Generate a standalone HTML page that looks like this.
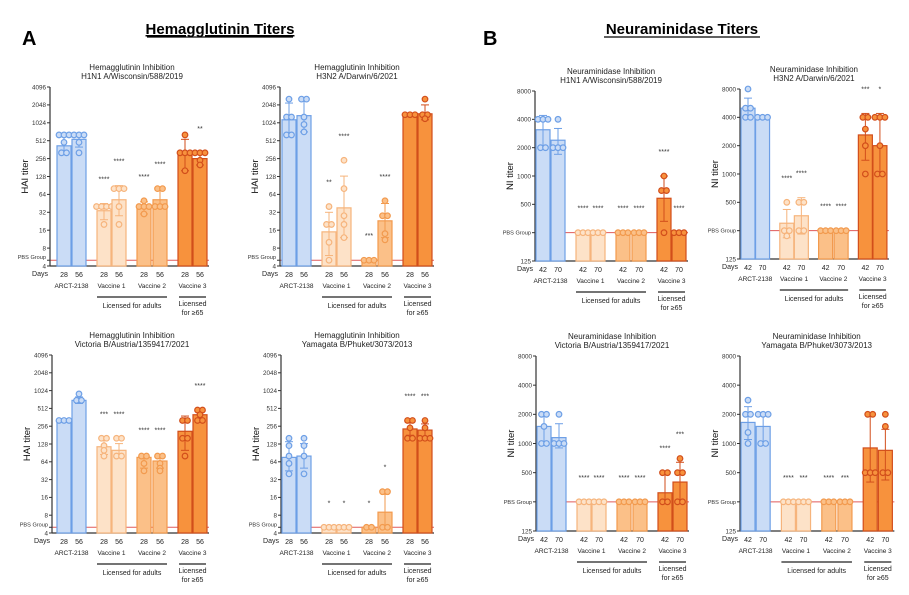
<!DOCTYPE html>
<html><head><meta charset="utf-8">
<style>
body{margin:0;background:#fff;}
svg{display:block;font-family:"Liberation Sans",Arial,sans-serif;}
</style></head>
<body>
<svg id="fig" width="909" height="595" viewBox="0 0 909 595">
<text x="22" y="45" font-size="20" font-weight="bold">A</text>
<text x="220" y="34" font-size="15" font-weight="bold" text-anchor="middle" text-decoration="underline">Hemagglutinin Titers</text>
<line x1="147" y1="37" x2="293" y2="37" stroke="#000" stroke-width="1.3"/>
<text x="483" y="45" font-size="20" font-weight="bold">B</text>
<text x="682" y="34" font-size="15" font-weight="bold" text-anchor="middle">Neuraminidase Titers</text>
<line x1="604" y1="37" x2="760" y2="37" stroke="#000" stroke-width="1.3"/>
</svg>
<script>
// ---- data ----
const groups = ["ARCT-2138","Vaccine 1","Vaccine 2","Vaccine 3"];
const haTicks = [4,8,16,32,64,128,256,512,1024,2048,4096];
const niTicks = [125,500,1000,2000,4000,8000];
const haDays = ["28","56"];
const niDays = ["42","70"];

// HA H1N1
const p1Bars = [420,540,34,52,40,52,300,256];
const p1Pts = [[640,640,640,320,320,480],[640,640,640,480,320],[40,40,40,20,40],[80,80,80,40,20],[40,40,40,50,30],[80,80,40,40,40],[640,320,320,320,160],[320,320,320,240,200]];
const p1Err = [[320,640],[400,680],[24,45],[28,90],[30,48],[40,80],[160,540],[200,320]];
const p1Stars = ["","","****","****","****","****","","**"];
// HA H3N2
const p2Bars = [1150,1350,15,38,5,23,1400,1450];
const p2Pts = [[2560,1280,1280,640,640],[2560,2560,1280,960,720],[40,20,20,10,5],[240,80,28,20,12],[5,5,5],[50,28,28,14,11],[1400,1400,1400],[2560,1400,1400,1200]];
const p2Err = [[640,2200],[720,2400],[6,32],[12,130],[5,5],[12,45],[1400,1400],[1150,2048]];
const p2Stars = ["","","**","****","***","****","",""];
// NI H1N1
const p3Bars = [3100,2400,250,250,250,250,580,250];
const p3Pts = [[4000,4000,4000,2000,2000],[4000,2000,2000,2000],[250,250,250],[250,250,250],[250,250,250],[250,250,250],[1000,700,700,250],[250,250,250]];
const p3Err = [[2000,4400],[1700,3200],[250,250],[250,250],[250,250],[250,250],[330,1000],[250,250]];
const p3Stars = ["","","****","****","****","****","****","****"];
// NI H3N2
const p4Bars = [5000,4000,300,360,250,250,2600,2000];
const p4Pts = [[8000,5000,5000,4000,4000],[4000,4000,4000],[500,250,250,220],[500,500,250,250],[250,250,250],[250,250,250],[4000,4000,3000,2000,1000],[4000,4000,4000,2000,1000,1000]];
const p4Err = [[4000,6400],[4000,4000],[210,420],[230,560],[250,250],[250,250],[1400,4400],[1000,4400]];
const p4Stars = ["","","****","****","****","****","***","*"];
// HA Victoria
const p5Bars = [320,700,115,100,76,66,210,400];
const p5Pts = [[320,320,320],[900,700,700],[160,160,120,100,80],[160,160,80,80],[80,80,60,45],[80,80,60,50,45],[320,320,160,160,80],[480,480,400,320,320]];
const p5Err = [[320,320],[620,800],[85,160],[80,130],[50,85],[50,85],[100,380],[320,480]];
const p5Stars = ["","","***","****","****","****","","****"];
// HA Yamagata
const p6Bars = [76,80,5,5,5,9,230,220];
const p6Pts = [[160,120,80,60,40],[160,120,80,40],[5,5,5],[5,5,5],[5,5],[20,20,5,5],[320,320,240,160,160],[320,240,160,160,160]];
const p6Err = [[45,140],[50,130],[5,5],[5,5],[5,5],[5,18],[180,300],[170,280]];
const p6Stars = ["","","*","*","*","*","****","***"];
// NI Victoria
const p7Bars = [1500,1150,250,250,250,250,310,400];
const p7Pts = [[2000,2000,1500,1000,1000],[2000,1000,1000,1000],[250,250,250],[250,250,250],[250,250,250],[250,250,250],[500,500,250,250],[700,500,500,250,250]];
const p7Err = [[1000,2000],[900,1600],[250,250],[250,250],[250,250],[250,250],[250,500],[250,640]];
const p7Stars = ["","","****","****","****","****","****","***"];
// NI Yamagata
const p8Bars = [1650,1500,250,250,250,250,900,850];
const p8Pts = [[2800,2000,2000,1300,1000],[2000,2000,2000,1000,1000],[250,250,250],[250,250,250],[250,250,250],[250,250,250],[2000,2000,500,500,500],[2000,1500,500,500]];
const p8Err = [[1100,2400],[1000,2000],[250,250],[250,250],[250,250],[250,250],[400,2000],[420,1400]];
const p8Stars = ["","","****","***","****","***","",""];

const fills = ["#cadcf6","#cadcf6","#fde2c8","#fde2c8","#fbc088","#fbc088","#f7923d","#f7923d"];
const strokes = ["#6d9fe6","#6d9fe6","#f6b47c","#f6b47c","#f29a4e","#f29a4e","#d24e1b","#d24e1b"];

const panels = [
 {id:"ha-h1n1",axisX:50,top:87,bottom:266,min:4,max:4096,pbs:5,first:64,sc:1,ticks:haTicks,days:haDays,yl:"HAI titer",t1:"Hemagglutinin Inhibition",t2:"H1N1 A/Wisconsin/588/2019",bars:p1Bars,pts:p1Pts,err:p1Err,stars:p1Stars},
 {id:"ha-h3n2",axisX:280,top:87,bottom:266,min:4,max:4096,pbs:5,first:289,sc:1,ticks:haTicks,days:haDays,yl:"HAI titer",t1:"Hemagglutinin Inhibition",t2:"H3N2 A/Darwin/6/2021",bars:p2Bars,pts:p2Pts,err:p2Err,stars:p2Stars},
 {id:"ni-h1n1",axisX:535,top:91,bottom:261,min:125,max:8000,pbs:250,first:543,sc:1,ticks:niTicks,days:niDays,yl:"NI titer",t1:"Neuraminidase Inhibition",t2:"H1N1 A/Wisconsin/588/2019",bars:p3Bars,pts:p3Pts,err:p3Err,stars:p3Stars},
 {id:"ni-h3n2",axisX:740,top:89,bottom:259,min:125,max:8000,pbs:250,first:748,sc:0.97,ticks:niTicks,days:niDays,yl:"NI titer",t1:"Neuraminidase Inhibition",t2:"H3N2 A/Darwin/6/2021",bars:p4Bars,pts:p4Pts,err:p4Err,stars:p4Stars},
 {id:"ha-victoria",axisX:52,top:355,bottom:533,min:4,max:4096,pbs:5,first:64,sc:1,ticks:haTicks,days:haDays,yl:"HAI titer",t1:"Hemagglutinin Inhibition",t2:"Victoria B/Austria/1359417/2021",bars:p5Bars,pts:p5Pts,err:p5Err,stars:p5Stars},
 {id:"ha-yamagata",axisX:281,top:355,bottom:533,min:4,max:4096,pbs:5,first:289,sc:1,ticks:haTicks,days:haDays,yl:"HAI titer",t1:"Hemagglutinin Inhibition",t2:"Yamagata B/Phuket/3073/2013",bars:p6Bars,pts:p6Pts,err:p6Err,stars:p6Stars},
 {id:"ni-victoria",axisX:536,top:356,bottom:531,min:125,max:8000,pbs:250,first:544,sc:1,ticks:niTicks,days:niDays,yl:"NI titer",t1:"Neuraminidase Inhibition",t2:"Victoria B/Austria/1359417/2021",bars:p7Bars,pts:p7Pts,err:p7Err,stars:p7Stars},
 {id:"ni-yamagata",axisX:740,top:356,bottom:531,min:125,max:8000,pbs:250,first:748,sc:1.01,ticks:niTicks,days:niDays,yl:"NI titer",t1:"Neuraminidase Inhibition",t2:"Yamagata B/Phuket/3073/2013",bars:p8Bars,pts:p8Pts,err:p8Err,stars:p8Stars}
];
const offs=[0,15,40,55,80,96,121,136];

const NS="http://www.w3.org/2000/svg";
const svg=document.getElementById("fig");
function mk(tag,attrs,parent,txt){const e=document.createElementNS(NS,tag);for(const k in attrs)e.setAttribute(k,attrs[k]);if(txt!==undefined)e.textContent=txt;parent.appendChild(e);return e;}

panels.forEach(p=>{
  const g=mk("g",{},svg);
  
  
  const y=v=>p.bottom-(Math.log2(v/p.min)/Math.log2(p.max/p.min))*(p.bottom-p.top);
  const bx=i=>p.first+offs[i]*p.sc;
  const last=bx(7)+9;
  const cx=(bx(0)+bx(7))/2;
  const t1=mk("text",{x:cx,y:p.top-17,"font-size":8,"text-anchor":"middle",fill:"#222"},g,p.t1);
  
  
  const t2=mk("text",{x:cx,y:p.top-8,"font-size":8,"text-anchor":"middle",fill:"#222"},g,p.t2);
  
  
  // pbs line
  const pl=mk("line",{x1:p.axisX,x2:last,y1:y(p.pbs),y2:y(p.pbs),stroke:"#e05a5a","stroke-width":1},g);
  
  
  // axes
  mk("line",{x1:p.axisX,x2:p.axisX,y1:p.top,y2:p.bottom,stroke:"#333","stroke-width":1.2},g);
  mk("line",{x1:p.axisX,x2:last,y1:p.bottom,y2:p.bottom,stroke:"#333","stroke-width":1.2},g);
  p.ticks.forEach(t=>{
    mk("line",{x1:p.axisX-3,x2:p.axisX,y1:y(t),y2:y(t),stroke:"#333","stroke-width":1},g);
    const tl=mk("text",{x:p.axisX-4,y:y(t)+2.3,"font-size":6.3,"text-anchor":"end",fill:"#333"},g,String(t));
    
    
  });
  mk("line",{x1:p.axisX-3,x2:p.axisX,y1:y(p.pbs),y2:y(p.pbs),stroke:"#333","stroke-width":1},g);
  const pb=mk("text",{x:p.axisX-4,y:y(p.pbs)+(p.min===4?-1:2),"font-size":5.6,"text-anchor":"end",fill:"#333"},g,"PBS Group");
  
  
  const yc=(p.top+p.bottom)/2, yx=p.axisX-(p.min===4?22:22);
  const yl=mk("text",{x:yx,y:yc,"font-size":9.5,"text-anchor":"middle",fill:"#111",transform:`rotate(-90 ${yx} ${yc})`},g,p.yl);
  
  
  // bars
  p.bars.forEach((v,i)=>{
    const x=bx(i);
    const r=mk("rect",{x:x-7,y:y(v),width:14,height:p.bottom-y(v),fill:fills[i],stroke:strokes[i],"stroke-width":1.2},g);
    
    
    const e=p.err[i];
    if(e[0]!==e[1]){
      mk("line",{x1:x,x2:x,y1:y(e[0]),y2:y(e[1]),stroke:strokes[i],"stroke-width":1},g);
      mk("line",{x1:x-4,x2:x+4,y1:y(e[0]),y2:y(e[0]),stroke:strokes[i],"stroke-width":1},g);
      mk("line",{x1:x-4,x2:x+4,y1:y(e[1]),y2:y(e[1]),stroke:strokes[i],"stroke-width":1},g);
    }
    const pts=p.pts[i];
    pts.forEach((pv,k)=>{
      const same=pts.filter(q=>q===pv).length;
      const idx=pts.slice(0,k).filter(q=>q===pv).length;
      const dx=(idx-(same-1)/2)*5;
      const c=mk("circle",{cx:x+dx,cy:y(pv),r:2.8,fill:fills[i],stroke:strokes[i],"stroke-width":1.2},g);
      
      
    });
    if(p.stars[i]){
      const topV=Math.max(e[1],Math.max(...pts),v);
      const s=mk("text",{x:x,y:y(topV)-22,"font-size":7,"text-anchor":"middle",fill:"#333"},g,p.stars[i]);
      
      
    }
    const d=mk("text",{x:x,y:p.bottom+11,"font-size":7,"text-anchor":"middle",fill:"#222"},g,p.days[i%2]);
    
    
  });
  const dl=mk("text",{x:p.axisX-2,y:p.bottom+10,"font-size":7,"text-anchor":"end",fill:"#222"},g,"Days");
  
  
  groups.forEach((gn,j)=>{
    const gx=(bx(2*j)+bx(2*j+1))/2;
    const gl=mk("text",{x:gx,y:p.bottom+22,"font-size":6.5,"text-anchor":"middle",fill:"#222"},g,gn);
    
    
  });
  const ly=p.bottom+31;
  mk("line",{x1:bx(2)-7,x2:bx(5)+7,y1:ly,y2:ly,stroke:"#222","stroke-width":1.2},g);
  mk("line",{x1:bx(6)-6,x2:bx(7)+6,y1:ly,y2:ly,stroke:"#222","stroke-width":1.2},g);
  const la=mk("text",{x:(bx(2)+bx(5))/2,y:ly+11,"font-size":7,"text-anchor":"middle",fill:"#222"},g,"Licensed for adults");
  
  
  const l6=mk("text",{x:(bx(6)+bx(7))/2,y:ly+9,"font-size":7,"text-anchor":"middle",fill:"#222"},g,"Licensed");
  
  
  mk("text",{x:(bx(6)+bx(7))/2,y:ly+18,"font-size":7,"text-anchor":"middle",fill:"#222"},g,"for ≥65");
});
</script>
</body></html>
